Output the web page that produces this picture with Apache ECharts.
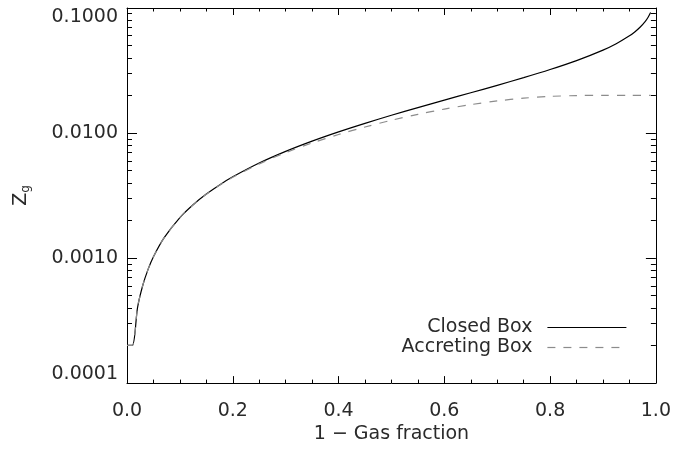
<!DOCTYPE html>
<html>
<head>
<meta charset="utf-8">
<script src="https://cdn.jsdelivr.net/npm/echarts@6/dist/echarts.min.js"></script>
<style>
  html, body { margin: 0; padding: 0; background: #fff; }
  #main { width: 674px; height: 449px; }
</style>
</head>
<body>
<div id="main"></div>
<script>
// 1 - gas fraction
var xClosed = [0, 0.01, 0.02, 0.03, 0.04, 0.05, 0.07, 0.1, 0.125, 0.15, 0.175, 0.2, 0.25, 0.3, 0.35, 0.4, 0.45, 0.5, 0.55, 0.6, 0.65, 0.7, 0.75, 0.8, 0.85, 0.9, 0.925, 0.95, 0.96, 0.97, 0.98, 0.985, 0.99]
var zClosed = [0.0002, 0.0002, 0.000404, 0.000609, 0.000816, 0.001026, 0.001451, 0.002107, 0.002671, 0.00325, 0.003847, 0.004463, 0.005754, 0.007133, 0.008616, 0.010217, 0.011957, 0.013863, 0.01597, 0.018326, 0.020996, 0.024079, 0.027726, 0.032189, 0.037942, 0.046052, 0.051805, 0.059915, 0.064378, 0.070131, 0.07824, 0.083994, 0.092103]

var xAccreting = [0, 0.01, 0.02, 0.03, 0.04, 0.05, 0.07, 0.1, 0.125, 0.15, 0.175, 0.2, 0.25, 0.3, 0.35, 0.4, 0.45, 0.5, 0.55, 0.6, 0.65, 0.7, 0.75, 0.8, 0.85, 0.9, 0.95, 0.99]
var zAccreting = [0.0002, 0.0002, 0.000404, 0.000609, 0.000816, 0.001025, 0.00145, 0.002103, 0.002662, 0.003236, 0.003824, 0.004424, 0.005669, 0.006971, 0.008327, 0.009732, 0.011175, 0.012642, 0.014109, 0.015537, 0.016878, 0.018061, 0.019004, 0.019634, 0.019931, 0.019998, 0.02, 0.02]

var seriesNames = ['Closed Box', 'Accreting Box']

// log axis minor ticks (2..9 in each decade)
var yMinorTicks = [
  0.0002, 0.0003, 0.0004, 0.0005, 0.0006, 0.0007, 0.0008, 0.0009,
  0.002, 0.003, 0.004, 0.005, 0.006, 0.007, 0.008, 0.009,
  0.02, 0.03, 0.04, 0.05, 0.06, 0.07, 0.08, 0.09
]
var yMajorTicks = [0.0001, 0.001, 0.01, 0.1]

function pairs(xs, ys) {
  return xs.map(function (x, i) { return [x, ys[i]] })
}

var font = 'DejaVu Sans'
var ink = '#000'
var txt = '#2a2a2a'

function xAxisCfg(pos, withLabels) {
  return {
    type: 'value',
    position: pos,
    min: 0,
    max: 1,
    interval: 0.2,
    axisLine: { show: true, lineStyle: { color: ink, width: 1 } },
    axisTick: { show: true, inside: true, length: 7, lineStyle: { color: ink } },
    minorTick: { show: true, splitNumber: 4, length: 3.5, lineStyle: { color: ink } },
    splitLine: { show: false },
    axisLabel: {
      show: withLabels,
      margin: 18,
      color: txt,
      fontFamily: font,
      fontSize: 19,
      formatter: function (v) { return v.toFixed(1) }
    },
    name: withLabels ? '1 \u2212 Gas fraction' : '',
    nameLocation: 'middle',
    nameGap: 41,
    nameTextStyle: { color: txt, fontFamily: font, fontSize: 19 }
  }
}

function yAxisCfg(pos, major, withLabels) {
  return {
    type: 'log',
    logBase: 10,
    position: pos,
    min: 0.0001,
    max: 0.1,
    axisLine: { show: major, lineStyle: { color: ink, width: 1 } },
    axisTick: {
      show: true,
      inside: true,
      length: major ? 10 : 5,
      customValues: major ? yMajorTicks : yMinorTicks,
      lineStyle: { color: ink }
    },
    splitLine: { show: false },
    axisLabel: {
      show: withLabels,
      margin: 9,
      color: txt,
      fontFamily: font,
      fontSize: 19,
      customValues: withLabels ? yMajorTicks : undefined,
      verticalAlignMaxLabel: 'top',
      verticalAlignMinLabel: 'bottom',
      formatter: function (v) { return Number(v).toFixed(4) }
    },
    name: withLabels ? '{z|Z}{g|g}' : '',
    nameLocation: 'middle',
    nameGap: 95,
    nameRotate: 90,
    nameTextStyle: {
      color: txt,
      fontFamily: font,
      rich: {
        z: { fontSize: 19, fontFamily: font, color: txt },
        g: { fontSize: 12, fontFamily: font, color: txt, padding: [10, 0, 0, 0] }
      }
    }
  }
}

var chart = echarts.init(document.getElementById('main'), null, { renderer: 'canvas' })

var option = {
  animation: false,
  backgroundColor: '#fff',
  grid: { left: 127, right: 18, top: 8, bottom: 65, containLabel: false },
  legend: {
    orient: 'vertical',
    right: 42,
    top: 313,
    align: 'right',
    itemWidth: 79,
    itemHeight: 14,
    itemGap: 1,
    data: seriesNames,
    itemStyle: { opacity: 0 },
    lineStyle: { width: 1.2 },
    textStyle: { color: txt, fontFamily: font, fontSize: 19, padding: [0, 10, 0, 0] }
  },
  xAxis: [xAxisCfg('bottom', true), xAxisCfg('top', false)],
  yAxis: [
    yAxisCfg('left', true, true),
    yAxisCfg('left', false, false),
    yAxisCfg('right', true, false),
    yAxisCfg('right', false, false)
  ],
  series: [
    {
      name: seriesNames[0],
      type: 'line',
      xAxisIndex: 0,
      yAxisIndex: 0,
      data: pairs(xClosed, zClosed),
      symbol: 'none',
      smooth: 0.3,
      lineStyle: { color: '#000', width: 1.2, type: 'solid' },
      itemStyle: { color: '#000' }
    },
    {
      name: seriesNames[1],
      type: 'line',
      xAxisIndex: 0,
      yAxisIndex: 0,
      data: pairs(xAccreting, zAccreting),
      symbol: 'none',
      smooth: 0.3,
      lineStyle: { color: '#8c8c8c', width: 1.2, type: [8, 8] },
      itemStyle: { color: '#8c8c8c' }
    }
  ]
}

chart.setOption(option)
</script>
</body>
</html>
